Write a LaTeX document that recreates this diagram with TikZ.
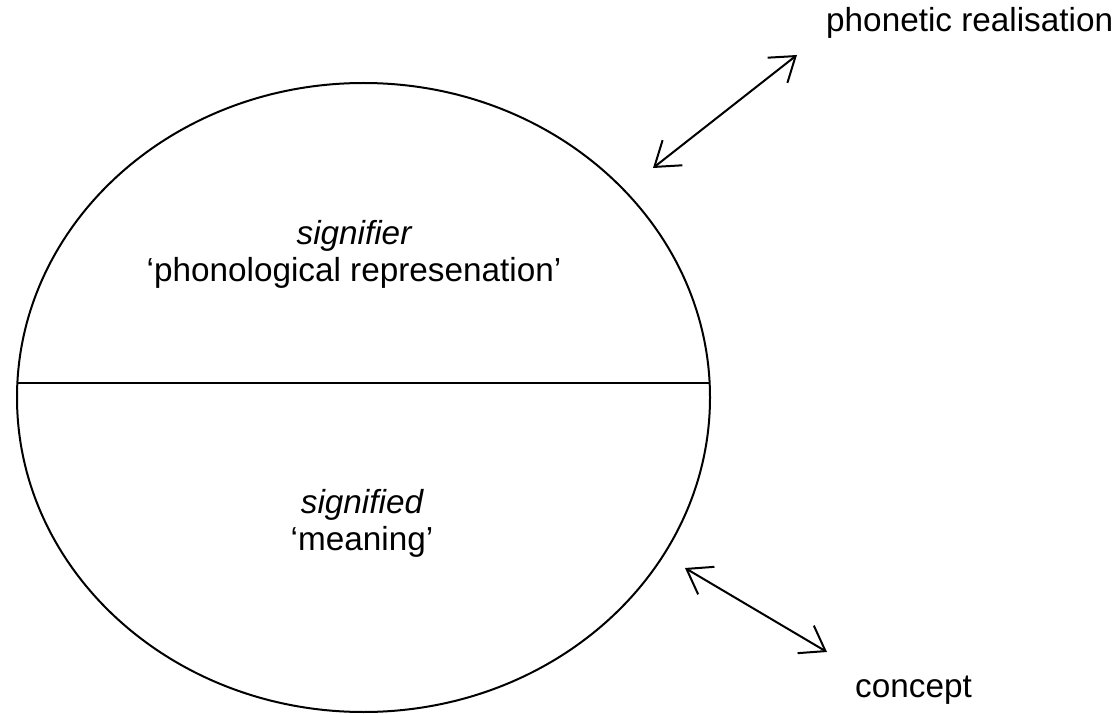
\documentclass[tikz,border=0pt]{standalone}
\usepackage{fontspec}
\setmainfont{Liberation Sans}
\usetikzlibrary{arrows.meta}
\begin{document}
\begin{tikzpicture}[x=1pt,y=-1pt,
  lbl/.style={inner sep=0pt,anchor=base,font=\fontsize{33.3}{38}\selectfont},
  dblarrow/.style={line width=2pt,{Straight Barb[length=23pt,width=32pt,line width=2pt]}-{Straight Barb[length=23pt,width=32pt,line width=2pt]}}]
\useasboundingbox (0,0) rectangle (1117,714);
\draw[line width=2pt] (363.5,397.5) ellipse [x radius=346.5, y radius=314.5];
\coordinate (hl) at (17.4,383);
\coordinate (hr) at (709.6,383);
\draw[line width=2pt] (hl) -- (hr);
\node[lbl] (sr) at (354,245) {\itshape signifier};
\node[lbl] (pr) at (354,282) {‘phonological represenation’};
\node[lbl] (sd) at (362,513) {\itshape signified};
\node[lbl] (mn) at (362,550) {‘meaning’};
\node[lbl,anchor=base west] (ph) at (826,32) {phonetic realisation};
\node[lbl,anchor=base west] (cp) at (855,697) {concept};
\coordinate (a1) at (653,168);
\coordinate (a2) at (797,55);
\coordinate (b1) at (685,568);
\coordinate (b2) at (827,652);
\draw[dblarrow] (a1) -- (a2);
\draw[dblarrow] (b1) -- (b2);
\end{tikzpicture}
\end{document}
